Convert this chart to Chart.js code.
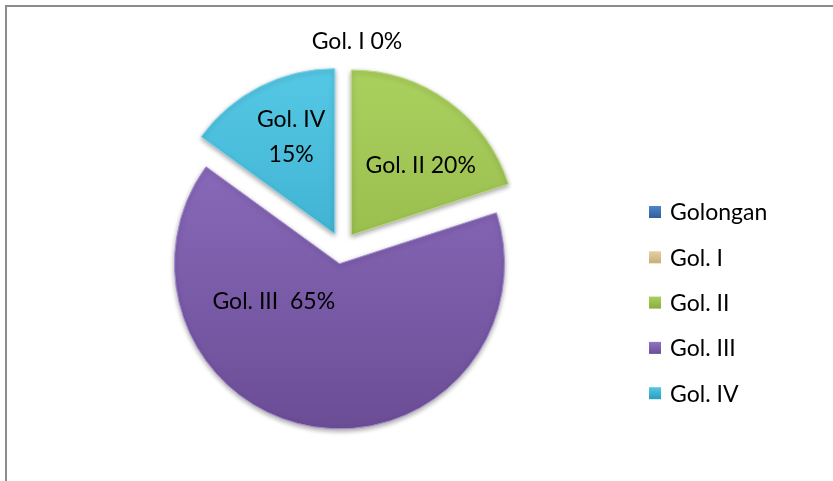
<!DOCTYPE html>
<html>
<head>
<meta charset="utf-8">
<script src="https://cdn.jsdelivr.net/npm/chart.js@4.4.0/dist/chart.umd.min.js"></script>
<style>
    html, body { margin: 0; padding: 0; background: #fff; }
    #wrap { position: relative; width: 833px; height: 481px; }
</style>
</head>
<body>
<div id="wrap"><canvas id="golonganChart" width="833" height="481"></canvas></div>
<script>
// data
const kategori = ['Golongan', 'Gol. I', 'Gol. II', 'Gol. III', 'Gol. IV'];
const persen = [null, 0, 20, 65, 15];
const labelTeks = [null, ['Gol. I 0%'], ['Gol. II 20%'], ['Gol. III  65%'], ['Gol. IV', '15%']];

// warna (atas, bawah) per slice
const warnaAtas = ['#4f86c9', '#e6cfa0', '#aad05e', '#9373c6', '#55c8e6'];
const warnaBawah = ['#2f5e9c', '#c9ad78', '#89ac3f', '#6b4d96', '#2b9dbd'];
const warnaTepi = ['#6a9ad6', '#efdcb5', '#bcdc7a', '#a489d2', '#79d6ee'];

// posisi label: sudut (derajat dari atas, searah jarum jam) dan jarak relatif radius
const labelSudut = [0, 4.5, 45, 240, -24.4];
const labelJarak = [0, 1.155, 0.594, 0.46, 0.64];

const FONT = 'Lato, "Open Sans", sans-serif';
const UKURAN = 23;
const LEDAK = 16; // jarak pecahan pie (px)

function gradien(context) {
    const chart = context.chart;
    const i = context.dataIndex;
    const area = chart.chartArea;
    if (!area) return warnaAtas[i];
    const g = chart.ctx.createLinearGradient(0, area.top, 0, area.bottom);
    g.addColorStop(0, warnaAtas[i]);
    g.addColorStop(1, warnaBawah[i]);
    return g;
}

// geser tiap slice keluar dari pusat (seperti pie "exploded" di Excel)
const pecahPlugin = {
    id: 'pecah',
    afterDatasetUpdate(chart, args) {
        args.meta.data.forEach(arc => {
            const mid = (arc.startAngle + arc.endAngle) / 2;
            arc.x = arc.x + Math.cos(mid) * LEDAK;
            arc.y = arc.y + Math.sin(mid) * LEDAK;
        });
    },
    beforeDatasetsDraw(chart) {
        const ctx = chart.ctx;
        ctx.save();
        ctx.shadowColor = 'rgba(0,0,0,0.35)';
        ctx.shadowBlur = 5;
        ctx.shadowOffsetY = 2;
    },
    afterDatasetsDraw(chart) {
        chart.ctx.restore();
    }
};

const labelPlugin = {
    id: 'labelSlice',
    afterDatasetsDraw(chart) {
        const ctx = chart.ctx;
        const meta = chart.getDatasetMeta(0);
        ctx.save();
        ctx.font = UKURAN + 'px ' + FONT;
        ctx.fillStyle = '#000';
        ctx.textAlign = 'center';
        ctx.textBaseline = 'middle';
        meta.data.forEach((arc, i) => {
            if (persen[i] === null) return;
            const a = labelSudut[i] * Math.PI / 180;
            const r = arc.outerRadius * labelJarak[i];
            const x = arc.x + Math.sin(a) * r;
            const y = arc.y - Math.cos(a) * r;
            const baris = labelTeks[i];
            const tinggi = 35;
            baris.forEach((t, j) => {
                ctx.fillText(t, x, y + (j - (baris.length - 1) / 2) * tinggi);
            });
        });
        ctx.restore();
    }
};

const legendPlugin = {
    id: 'legendKanan',
    afterDraw(chart) {
        const ctx = chart.ctx;
        ctx.save();
        // bingkai chart
        ctx.strokeStyle = '#8c8c8c';
        ctx.lineWidth = 2;
        ctx.beginPath();
        ctx.moveTo(6, chart.height);
        ctx.lineTo(6, 6);
        ctx.lineTo(chart.width, 6);
        ctx.stroke();

        ctx.font = UKURAN + 'px ' + FONT;
        ctx.textBaseline = 'middle';
        kategori.forEach((k, i) => {
            const y = 212 + i * 45.3;
            const g = ctx.createLinearGradient(0, y - 6, 0, y + 6);
            g.addColorStop(0, warnaAtas[i]);
            g.addColorStop(1, warnaBawah[i]);
            ctx.fillStyle = g;
            ctx.fillRect(649, y - 6, 12, 12);
            ctx.fillStyle = '#000';
            ctx.fillText(k, 670, y + 1);
        });
        ctx.restore();
    }
};

new Chart(document.getElementById('golonganChart'), {
    type: 'pie',
    data: {
        labels: kategori,
        datasets: [{
            data: persen,
            backgroundColor: gradien,
            borderColor: warnaTepi,
            borderWidth: 1
        }]
    },
    options: {
        responsive: false,
        animation: false,
        events: [],
        radius: 165,
        layout: {
            padding: { left: 162, right: 311, top: 68, bottom: 53 }
        },
        plugins: {
            legend: { display: false },
            tooltip: { enabled: false }
        }
    },
    plugins: [pecahPlugin, labelPlugin, legendPlugin]
});
</script>
</body>
</html>
